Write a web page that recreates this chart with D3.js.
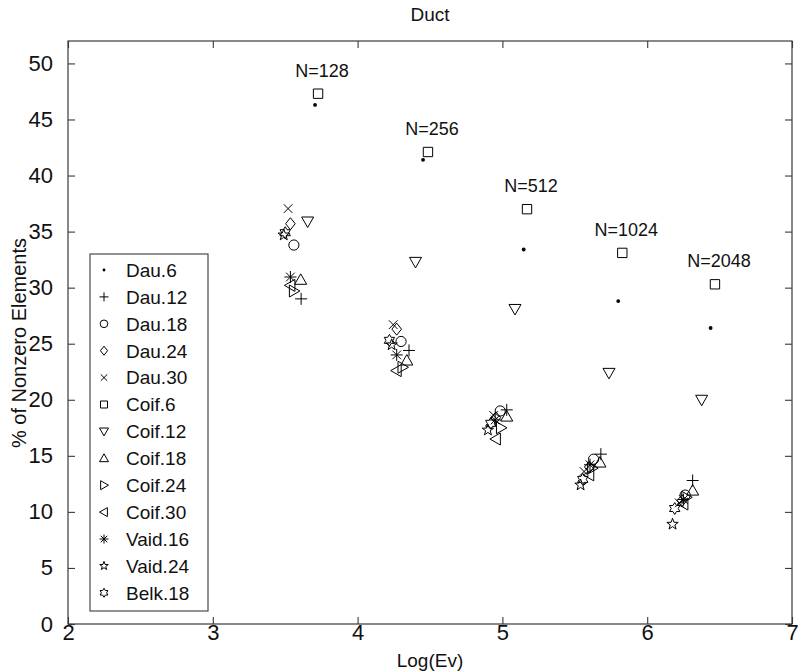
<!DOCTYPE html>
<html>
<head>
<meta charset="utf-8">
<script src="https://cdn.jsdelivr.net/npm/d3@7"></script>
<style>
  html, body { margin: 0; padding: 0; background: #fff; }
  svg { display: block; font-family: "Liberation Sans", Arial, Helvetica, sans-serif; }
</style>
</head>
<body>
<svg id="chart" width="798" height="672"></svg>
<script>
// Problem sizes shown above each group of points
const sizes = [128, 256, 512, 1024, 2048];

// Wavelet names (legend order)
const names = ["Dau.6", "Dau.12", "Dau.18", "Dau.24", "Dau.30", "Coif.6", "Coif.12",
               "Coif.18", "Coif.24", "Coif.30", "Vaid.16", "Vaid.24", "Belk.18"];

// Marker type for each wavelet
const markerTypes = ["dot", "plus", "circle", "diamond", "cross", "square", "triDown",
                     "triUp", "triRight", "triLeft", "asterisk", "pentagram", "hexagram"];

// log(Ev) positions, one per problem size, for each wavelet
const logEv = [
  [3.706, 4.452, 5.147, 5.800, 6.438],
  [3.610, 4.355, 5.030, 5.680, 6.314],
  [3.560, 4.300, 4.985, 5.630, 6.262],
  [3.536, 4.270, 4.955, 5.600, 6.240],
  [3.520, 4.246, 4.940, 5.564, 6.222],
  [3.727, 4.486, 5.170, 5.828, 6.468],
  [3.655, 4.400, 5.087, 5.736, 6.376],
  [3.607, 4.340, 5.030, 5.674, 6.314],
  [3.560, 4.310, 4.990, 5.620, 6.270],
  [3.536, 4.270, 4.955, 5.600, 6.250],
  [3.536, 4.270, 4.950, 5.605, 6.250],
  [3.490, 4.235, 4.900, 5.540, 6.175],
  [3.500, 4.220, 4.920, 5.555, 6.190]
];

// % of nonzero elements, one per problem size, for each wavelet
const nonzeroPct = [
  [46.3, 41.4, 33.4, 28.8, 26.4],
  [29.0, 24.4, 19.1, 15.15, 12.8],
  [33.8, 25.2, 19.0, 14.7, 11.5],
  [35.7, 26.3, 18.4, 14.0, 11.0],
  [37.05, 26.7, 18.6, 13.6, 10.8],
  [47.3, 42.1, 37.0, 33.1, 30.3],
  [35.9, 32.3, 28.1, 22.4, 20.0],
  [30.7, 23.5, 18.5, 14.4, 11.9],
  [29.7, 22.9, 17.5, 13.9, 11.3],
  [30.2, 22.6, 16.5, 13.3, 10.7],
  [30.95, 24.0, 18.2, 14.2, 11.1],
  [34.7, 24.9, 17.3, 12.4, 8.9],
  [34.9, 25.3, 17.9, 12.9, 10.3]
];

const xTicks = [2, 3, 4, 5, 6, 7];
const yTicks = [0, 5, 10, 15, 20, 25, 30, 35, 40, 45, 50];

const svg = d3.select("#chart");
const plotL = 68, plotR = 792, plotT = 41, plotB = 624;

const x = d3.scaleLinear().domain([2, 7]).range([plotL, plotR]);
const y = d3.scaleLinear().domain([0, 52]).range([plotB, plotT]);

const axisColor = "#3a3a3a";
const tickLen = 7;

// Plot box
svg.append("rect")
  .attr("x", plotL).attr("y", plotT)
  .attr("width", plotR - plotL).attr("height", plotB - plotT)
  .attr("fill", "none").attr("stroke", axisColor).attr("stroke-width", 1.2);

// Axes with inward ticks
const xAxis = svg.append("g").attr("transform", `translate(0,${plotB})`)
  .call(d3.axisBottom(x).tickValues(xTicks).tickFormat(d3.format("d"))
        .tickSizeInner(-tickLen).tickSizeOuter(0).tickPadding(4));
const yAxis = svg.append("g").attr("transform", `translate(${plotL},0)`)
  .call(d3.axisLeft(y).tickValues(yTicks).tickFormat(d3.format("d"))
        .tickSizeInner(-tickLen).tickSizeOuter(0).tickPadding(15));
// Mirrored ticks on top and right edges
svg.append("g").attr("transform", `translate(0,${plotT})`)
  .call(d3.axisTop(x).tickValues(xTicks).tickFormat("").tickSizeInner(-tickLen).tickSizeOuter(0));
svg.append("g").attr("transform", `translate(${plotR},0)`)
  .call(d3.axisRight(y).tickValues(yTicks).tickFormat("").tickSizeInner(-tickLen).tickSizeOuter(0));

svg.selectAll(".domain").remove();
svg.selectAll(".tick line").attr("stroke", axisColor).attr("stroke-width", 1.1);
svg.selectAll(".tick text").attr("fill", "#111").attr("font-size", 22)
  .attr("font-family", "'Liberation Sans', Arial, sans-serif");
xAxis.selectAll(".tick text").attr("dy", "0.55em");

// Titles
svg.append("text").attr("x", (plotL + plotR) / 2).attr("y", 21)
  .attr("text-anchor", "middle").attr("font-size", 19).attr("fill", "#111").text("Duct");
svg.append("text").attr("x", (plotL + plotR) / 2).attr("y", 667)
  .attr("text-anchor", "middle").attr("font-size", 19).attr("fill", "#111").text("Log(Ev)");
svg.append("text")
  .attr("transform", `translate(26,343) rotate(-90)`)
  .attr("text-anchor", "middle").attr("font-size", 20).attr("fill", "#111")
  .text("% of Nonzero Elements");

// Marker path generators (s = nominal size in px)
function markerPath(type, s) {
  const h = s / 2;
  switch (type) {
    case "plus":
      return `M${-h},0H${h}M0,${-h}V${h}`;
    case "cross": {
      const c = h * 0.72;
      return `M${-c},${-c}L${c},${c}M${-c},${c}L${c},${-c}`;
    }
    case "asterisk": {
      const c = h * 0.72;
      return `M${-h},0H${h}M0,${-h}V${h}M${-c},${-c}L${c},${c}M${-c},${c}L${c},${-c}`;
    }
    case "square": {
      const q = h * 0.78;
      return `M${-q},${-q}H${q}V${q}H${-q}Z`;
    }
    case "diamond":
      return `M0,${-h}L${h * 0.8},0L0,${h}L${-h * 0.8},0Z`;
    case "circle": {
      const r = h * 0.85;
      return `M${r},0A${r},${r},0,1,1,${-r},0A${r},${r},0,1,1,${r},0Z`;
    }
    case "triUp":
      return `M0,${-h}L${h},${h * 0.75}L${-h},${h * 0.75}Z`;
    case "triDown":
      return `M0,${h}L${h},${-h * 0.75}L${-h},${-h * 0.75}Z`;
    case "triRight":
      return `M${h},0L${-h * 0.75},${h}L${-h * 0.75},${-h}Z`;
    case "triLeft":
      return `M${-h},0L${h * 0.75},${h}L${h * 0.75},${-h}Z`;
    case "pentagram": {
      const p = [];
      for (let i = 0; i < 10; i++) {
        const r = i % 2 === 0 ? h : h * 0.4;
        const a = -Math.PI / 2 + i * Math.PI / 5;
        p.push([r * Math.cos(a), r * Math.sin(a)]);
      }
      return "M" + p.map(q => q.join(",")).join("L") + "Z";
    }
    case "hexagram": {
      const p = [];
      for (let i = 0; i < 12; i++) {
        const r = i % 2 === 0 ? h : h * 0.58;
        const a = -Math.PI / 2 + i * Math.PI / 6;
        p.push([r * Math.cos(a), r * Math.sin(a)]);
      }
      return "M" + p.map(q => q.join(",")).join("L") + "Z";
    }
  }
  return "";
}

function drawMarker(g, type, cx, cy, s) {
  if (type === "dot") {
    g.append("circle").attr("cx", cx).attr("cy", cy).attr("r", s * 0.16).attr("fill", "#000");
  } else {
    g.append("path").attr("transform", `translate(${cx},${cy})`)
      .attr("d", markerPath(type, s))
      .attr("fill", "none").attr("stroke", "#000").attr("stroke-width", 1);
  }
}

// Data points
const pts = svg.append("g");
names.forEach((name, i) => {
  logEv[i].forEach((xv, j) => {
    drawMarker(pts, markerTypes[i], x(xv), y(nonzeroPct[i][j]), 12);
  });
});

// N = ... labels above the Coif.6 points
const coifIdx = names.indexOf("Coif.6");
svg.append("g").selectAll("text").data(sizes).join("text")
  .attr("x", (d, j) => x(logEv[coifIdx][j]) + 4)
  .attr("y", (d, j) => y(nonzeroPct[coifIdx][j]) - 17)
  .attr("text-anchor", "middle").attr("font-size", 18).attr("fill", "#111")
  .text(d => `N=${d}`);

// Legend
const lg = svg.append("g");
const lgX = 90, lgY = 254, lgW = 118, lgH = 357;
lg.append("rect").attr("x", lgX).attr("y", lgY).attr("width", lgW).attr("height", lgH)
  .attr("fill", "#fff").attr("stroke", axisColor).attr("stroke-width", 1.1);
const rowH = 26.9;
names.forEach((name, i) => {
  const cy = lgY + 16 + i * rowH;
  drawMarker(lg, markerTypes[i], lgX + 14, cy, 9);
  lg.append("text").attr("x", lgX + 36).attr("y", cy).attr("dy", "0.36em")
    .attr("font-size", 19).attr("fill", "#111").text(name);
});
</script>
</body>
</html>
